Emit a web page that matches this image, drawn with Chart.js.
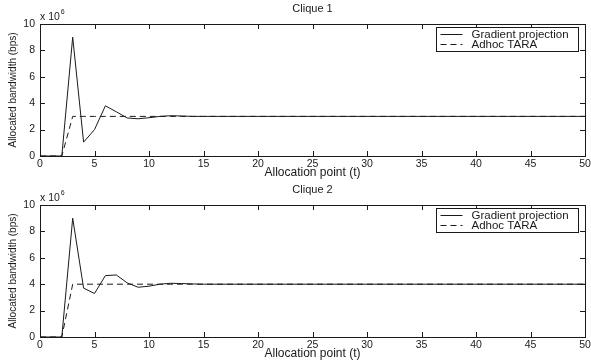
<!DOCTYPE html>
<html>
<head>
<meta charset="utf-8">
<script src="https://cdn.jsdelivr.net/npm/chart.js@4.4.0/dist/chart.umd.min.js"></script>
<style>
  html, body { margin: 0; padding: 0; background: #fff; }
  .panel { width: 591px; height: 180px; }
  canvas { display: block; }
</style>
</head>
<body>
<div class="panel"><canvas id="clique1" width="591" height="180"></canvas></div>
<div class="panel"><canvas id="clique2" width="591" height="180"></canvas></div>
<script>
// Allocation points (t) where the curves were read; the curves stay flat after t=15
const allocPoints = [0, 1, 2, 3, 4, 5, 6, 7, 8, 9, 10, 11, 12, 13, 14, 15, 20, 30, 40, 50];

// Allocated bandwidth, in units of 10^6 bps
const clique1Gradient = [0, 0, 0, 9.0, 1.05, 2.0, 3.8, 3.35, 2.88, 2.82, 2.9, 3.0, 3.05, 3.03, 3.0, 3.0, 3.0, 3.0, 3.0, 3.0];
const clique1Tara     = [0, 0, 0, 3.0, 3.0, 3.0, 3.0, 3.0, 3.0, 3.0, 3.0, 3.0, 3.0, 3.0, 3.0, 3.0, 3.0, 3.0, 3.0, 3.0];
const clique2Gradient = [0, 0, 0, 9.0, 3.7, 3.3, 4.65, 4.7, 4.1, 3.77, 3.85, 4.0, 4.07, 4.05, 4.02, 4.0, 4.0, 4.0, 4.0, 4.0];
const clique2Tara     = [0, 0, 0, 4.0, 4.0, 4.0, 4.0, 4.0, 4.0, 4.0, 4.0, 4.0, 4.0, 4.0, 4.0, 4.0, 4.0, 4.0, 4.0, 4.0];

const seriesLabels = ['Gradient projection', 'Adhoc TARA'];
const xTicks = { min: 0, max: 50, step: 5 };
const yTicks = { min: 0, max: 10, step: 2 };

const FONT = '"Liberation Sans", Arial, Helvetica, sans-serif';
const INK = '#1a1a1a';
const DASH = [6, 4];

function toPoints(xs, ys) {
  return xs.map((x, i) => ({ x: x, y: ys[i] }));
}

// Matlab style frame: box, inward ticks on every side, title, exponent and legend
const matlabFrame = {
  id: 'matlabFrame',
  afterDraw(chart, args, opts) {
    const ctx = chart.ctx;
    const a = chart.chartArea;
    const xs = chart.scales.x;
    const ys = chart.scales.y;
    const tl = 5;
    ctx.save();
    ctx.strokeStyle = INK;
    ctx.lineWidth = 1;
    ctx.setLineDash([]);
    ctx.beginPath();
    xs.ticks.forEach(t => {
      const px = Math.round(xs.getPixelForValue(t.value)) + 0.5;
      ctx.moveTo(px, a.bottom); ctx.lineTo(px, a.bottom - tl);
      ctx.moveTo(px, a.top); ctx.lineTo(px, a.top + tl);
    });
    ys.ticks.forEach(t => {
      const py = Math.round(ys.getPixelForValue(t.value)) + 0.5;
      ctx.moveTo(a.left, py); ctx.lineTo(a.left + tl, py);
      ctx.moveTo(a.right, py); ctx.lineTo(a.right - tl, py);
    });
    ctx.stroke();
    ctx.strokeRect(Math.round(a.left) + 0.5, Math.round(a.top) + 0.5,
      Math.round(a.right - a.left), Math.round(a.bottom - a.top));

    // title
    ctx.fillStyle = INK;
    ctx.font = '11px ' + FONT;
    ctx.textAlign = 'center';
    ctx.textBaseline = 'middle';
    ctx.fillText(opts.title, (a.left + a.right) / 2, a.top - 15);

    // exponent
    ctx.font = '10.5px ' + FONT;
    ctx.textAlign = 'left';
    ctx.textBaseline = 'alphabetic';
    ctx.fillText('x 10', a.left, a.top - 4);
    const w = ctx.measureText('x 10').width;
    ctx.font = '7px ' + FONT;
    ctx.fillText('6', a.left + w + 1, a.top - 10);

    // legend
    const lw = 142, lh = 24;
    const lx = Math.round(a.right - 7 - lw) + 0.5;
    const ly = Math.round(a.top + 3) + 0.5;
    ctx.fillStyle = '#fff';
    ctx.fillRect(lx, ly, lw, lh);
    ctx.strokeRect(lx, ly, lw, lh);
    ctx.font = '11.5px ' + FONT;
    ctx.textBaseline = 'middle';
    chart.data.datasets.forEach((ds, i) => {
      const ry = Math.round(ly + 6 + i * 10) + 0.5;
      ctx.setLineDash(ds.borderDash || []);
      ctx.beginPath();
      ctx.moveTo(lx + 4, ry);
      ctx.lineTo(lx + 26, ry);
      ctx.stroke();
      ctx.setLineDash([]);
      ctx.fillStyle = INK;
      ctx.fillText(ds.label, lx + 35, ry + 0.5);
    });
    ctx.restore();
  }
};

function makeChart(id, title, gradient, tara, topPad, xHeight, xTitlePad) {
  return new Chart(document.getElementById(id), {
    type: 'line',
    data: {
      datasets: [
        {
          label: seriesLabels[0],
          data: toPoints(allocPoints, gradient),
          borderColor: INK,
          borderWidth: 1,
          pointRadius: 0,
          tension: 0,
        },
        {
          label: seriesLabels[1],
          data: toPoints(allocPoints, tara),
          borderColor: INK,
          borderWidth: 1,
          borderDash: DASH,
          pointRadius: 0,
          tension: 0,
        }
      ]
    },
    options: {
      responsive: false,
      animation: false,
      devicePixelRatio: 1,
      layout: { padding: { left: 0, right: 6, top: topPad, bottom: 0 } },
      plugins: {
        legend: { display: false },
        title: { display: false },
        tooltip: { enabled: false },
        matlabFrame: { title: title }
      },
      scales: {
        x: {
          type: 'linear',
          min: xTicks.min,
          max: xTicks.max,
          grid: { display: false, drawTicks: false },
          border: { display: false },
          ticks: {
            stepSize: xTicks.step,
            autoSkip: false,
            maxRotation: 0,
            padding: 2,
            color: INK,
            font: { family: FONT, size: 10.5 }
          },
          title: {
            display: true,
            text: 'Allocation point (t)',
            color: INK,
            font: { family: FONT, size: 12, lineHeight: 1 },
            padding: { top: 0, bottom: xTitlePad }
          },
          afterFit(scale) {
            scale.height = xHeight;
            scale.paddingLeft = 0;
            scale.paddingRight = 0;
          }
        },
        y: {
          min: yTicks.min,
          max: yTicks.max,
          grid: { display: false, drawTicks: false },
          border: { display: false },
          ticks: {
            stepSize: yTicks.step,
            padding: 5,
            color: INK,
            font: { family: FONT, size: 10.5 }
          },
          title: {
            display: true,
            text: 'Allocated bandwidth (bps)',
            color: INK,
            font: { family: FONT, size: 10 },
            padding: { top: 7, bottom: 0 }
          },
          afterFit(scale) {
            scale.width = 40;
            scale.paddingTop = 0;
            scale.paddingBottom = 0;
          }
        }
      }
    },
    plugins: [matlabFrame]
  });
}

makeChart('clique1', 'Clique 1', clique1Gradient, clique1Tara, 24, 24, 1);
makeChart('clique2', 'Clique 2', clique2Gradient, clique2Tara, 25, 23, 0);
</script>
</body>
</html>
